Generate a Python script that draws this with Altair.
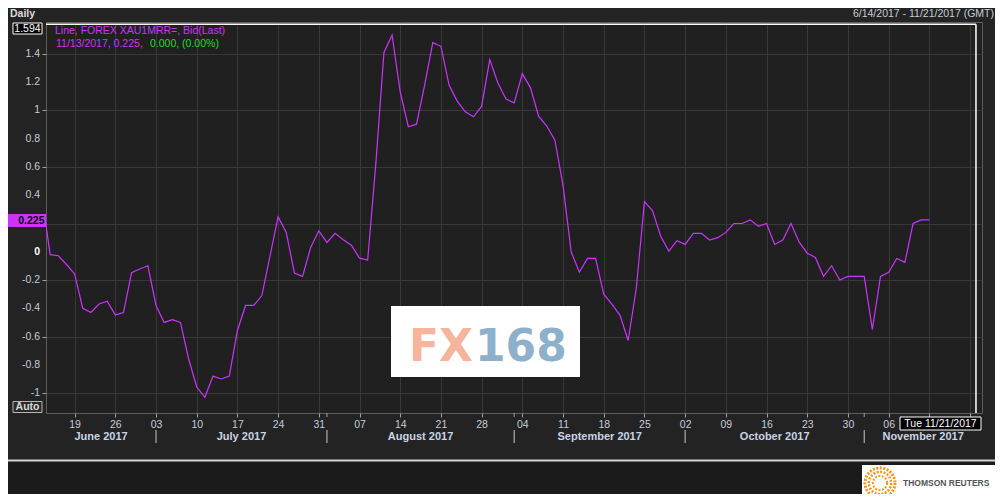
import altair as alt
import pandas as pd

# ---------------- data ----------------
start_date = "2017-06-13"
end_date = "2017-11-21"
values = [0.38, -0.02, -0.028, -0.09, -0.157, -0.40, -0.43, -0.37, -0.35, -0.447, -0.43,
          -0.148, -0.122, -0.099, -0.38, -0.50, -0.48, -0.50, -0.757, -0.957, -1.03,
          -0.88, -0.90, -0.88, -0.557, -0.38, -0.38, -0.31, -0.03, 0.247, 0.137,
          -0.15, -0.174, 0.031, 0.148, 0.066, 0.13, 0.085, 0.047, -0.045, -0.059,
          0.62, 1.41, 1.534, 1.13, 0.885, 0.903, 1.18, 1.48, 1.454, 1.18,
          1.066, 0.99, 0.955, 1.03, 1.36, 1.195, 1.08, 1.054, 1.261, 1.16,
          0.96, 0.89, 0.79, 0.47, 0.0, -0.145, -0.047, -0.047, -0.30, -0.37,
          -0.45, -0.628, -0.26, 0.355, 0.29, 0.11, 0.005, 0.078, 0.052, 0.13,
          0.13, 0.083, 0.10, 0.137, 0.2, 0.2, 0.226, 0.18, 0.2, 0.052,
          0.083, 0.2, 0.07, -0.01, -0.04, -0.174, -0.099, -0.2, -0.174, -0.174,
          -0.174, -0.55, -0.174, -0.145, -0.047, -0.075, 0.2, 0.225, 0.225]
y_ticks = [-1, -0.8, -0.6, -0.4, -0.2, 0, 0.2, 0.4, 0.6, 0.8, 1, 1.2, 1.4]
month_names = ["June 2017", "July 2017", "August 2017", "September 2017",
               "October 2017", "November 2017"]
x_domain = [-0.516, 114.47]
y_domain = [-1.141, 1.626]
cursor_t = 113.73
cursor_v = 1.61

FONT = "Liberation Sans"
LBL = "#c5cdd8"
MAG = "#cc33ff"

# trading-day index (t) for each weekday
dates = pd.bdate_range(start_date, end_date)
t_all = list(range(-1, len(dates) - 1))
df = pd.DataFrame({"t": t_all[:len(values)], "v": values})
last_t = t_all[len(values) - 1]
last_v = values[-1]

# weekly ticks on Mondays (labels from the last bar on sit under the date box)
tick_t = [t for t, d in zip(t_all, dates) if d.weekday() == 0]
tick_lab = [d.strftime("%d") if t < last_t else "" for t, d in zip(t_all, dates) if d.weekday() == 0]
label_expr = ("[" + ",".join("'%s'" % s for s in tick_lab) + "][indexof(["
              + ",".join(str(t) for t in tick_t) + "], datum.value)]")

bounds = [t_all[i] for i in range(1, len(dates)) if dates[i].month != dates[i - 1].month]
edges = [x_domain[0]] + bounds + [x_domain[1]]
centers = [(a + b) / 2 for a, b in zip(edges[:-1], edges[1:])]
months = pd.DataFrame({"t": centers, "name": month_names})
seps = pd.DataFrame({"t": bounds})
extra_ticks = pd.DataFrame({"t": [b for b in bounds if b not in tick_t]})
# y labels hidden by the last-value marker are left out
ylab = pd.DataFrame({"v": [v for v in y_ticks if abs(v - last_v) > 0.05],
                     "s": ["{:g}".format(v) for v in y_ticks if abs(v - last_v) > 0.05]})

xs = alt.Scale(domain=x_domain, nice=False, zero=False)
ys = alt.Scale(domain=y_domain, nice=False, zero=False)
one = pd.DataFrame({"a": [0]})

PX0, PY0 = 46, 22


def text(s, sx, sy, color, size=10.5, weight="normal", align="left", baseline="middle", font=FONT):
    return alt.Chart(pd.DataFrame({"s": [s]})).mark_text(
        align=align, baseline=baseline, color=color, fontSize=size,
        fontWeight=weight, font=font).encode(
        x=alt.value(sx - PX0), y=alt.value(sy - PY0), text="s:N")


def box(sx1, sy1, sx2, sy2, fill, stroke=None, sw=1):
    kw = dict(fill=fill)
    if stroke:
        kw.update(stroke=stroke, strokeWidth=sw)
    return alt.Chart(one).mark_rect(**kw).encode(
        x=alt.value(sx1 - PX0), x2=alt.value(sx2 - PX0),
        y=alt.value(sy1 - PY0), y2=alt.value(sy2 - PY0))


def X(field="t:Q"):
    return alt.X(field, scale=xs, title=None)


def Y(field="v:Q"):
    return alt.Y(field, scale=ys, title=None)


line = alt.Chart(df).mark_line(color=MAG, strokeWidth=1.2, clip=True).encode(
    x=alt.X("t:Q", scale=xs, title=None, axis=alt.Axis(
        values=tick_t, labelExpr=label_expr, title=None, grid=True, domain=False,
        labelFlush=False, labelOverlap=False, labelPadding=2, tickSize=4)),
    y=alt.Y("v:Q", scale=ys, title=None, axis=alt.Axis(
        values=y_ticks, labels=False, title=None, grid=True, domain=False, tickSize=4)),
)

ylabels = alt.Chart(ylab).transform_filter("datum.v != 0").mark_text(
    align="right", baseline="middle", font=FONT, fontSize=10.5, color=LBL).encode(
    x=alt.value(-6), y=Y(), text="s:N")
ylabel0 = alt.Chart(ylab).transform_filter("datum.v == 0").mark_text(
    align="right", baseline="middle", font=FONT, fontSize=10.5, color="#ffffff",
    fontWeight="bold").encode(x=alt.value(-6), y=Y(), text="s:N")

hcur = alt.Chart(pd.DataFrame({"t": [x_domain[0]], "t2": [cursor_t], "v": [cursor_v]})).mark_rule(
    color="#ffffff", strokeWidth=1.5).encode(x=X(), x2="t2:Q", y=Y())
vcur = alt.Chart(pd.DataFrame({"t": [cursor_t], "v": [cursor_v], "v2": [y_domain[0]]})).mark_rule(
    color="#ffffff", strokeWidth=1.5).encode(x=X(), y=Y(), y2="v2:Q")

sep_rules = alt.Chart(seps).mark_rule(color="#c8c8c8", strokeWidth=1).encode(
    x=X(), y=alt.value(408), y2=alt.value(421))
xtick_rules = alt.Chart(extra_ticks).mark_rule(color="#a0a0a0", strokeWidth=1).encode(
    x=X(), y=alt.value(391), y2=alt.value(395))
month_text = alt.Chart(months).mark_text(
    color="#c8d4e6", fontSize=11, fontWeight="bold", font=FONT, baseline="middle").encode(
    x=X(), y=alt.value(415), text="name:N")

layers = [
    box(8, 462, 995, 494, "#1b1b1b"),
    box(8, 459.5, 995, 461.5, "#d4d4d4"),
    line, ylabels, ylabel0, hcur, vcur, sep_rules, xtick_rules, month_text,
    text("Daily", 10, 13.5, "#dcdcdc", weight="bold"),
    text("6/14/2017 - 11/21/2017 (GMT)", 994, 13.5, LBL, align="right"),
    text("Line, FOREX XAU1MRR=, Bid(Last)", 55, 31, MAG),
    text("11/13/2017, 0.225,", 56, 44, MAG),
    text("0.000, (0.00%)", 150, 44, "#22dd22"),
    box(13, 23, 42, 34, "#000000", "#ffffff"),
    text("1.594", 27.5, 28.5, "#ffffff", align="center"),
    box(8, 214, 46, 227, MAG),
    text("0.225", 44.5, 220.5, "#000000", weight="bold", align="right"),
    box(13, 401.5, 42, 412.5, "#2a2a2a", "#b8b8b8"),
    text("Auto", 27.5, 407, "#d8d8d8", weight="bold", align="center"),
    box(900, 417, 981, 430, "#000000", "#ffffff"),
    text("Tue 11/21/2017", 940.5, 423.5, "#ffffff", align="center"),
    box(391, 306, 580, 377, "#ffffff"),
    text("FX", 473, 360.5, "#f5b49b", size=44, weight="bold", align="right",
         baseline="alphabetic", font="DejaVu Sans"),
    text("168", 475, 360.5, "#8eb1cb", size=44, weight="bold",
         baseline="alphabetic", font="DejaVu Sans"),
    box(862, 465, 1000, 500, "#ffffff"),
]
for sz, sw in [(900, 3), (500, 2.5), (200, 2)]:
    layers.append(alt.Chart(one).mark_point(
        shape="circle", size=sz, filled=False, stroke="#f7941d", strokeWidth=sw,
        strokeDash=[2, 1.5], opacity=1).encode(x=alt.value(880 - PX0), y=alt.value(483 - PY0)))
layers.append(text("THOMSON REUTERS", 903, 483, "#555555", size=8.5, weight="bold"))

chart = alt.layer(*layers).properties(
    width=936, height=391,
    padding={"left": 38, "top": 14, "right": 13, "bottom": 81},
    autosize=alt.AutoSizeParams(type="none"),
).configure(background="#232323").configure_view(
    stroke="#5f5f5f", fill="#202020"
).configure_axis(
    labelFont=FONT, labelFontSize=10.5, labelColor=LBL, tickColor="#a0a0a0",
    gridColor="#383838", gridWidth=1
)

chart.save("out.html", embed_options={"renderer": "svg", "actions": False})
